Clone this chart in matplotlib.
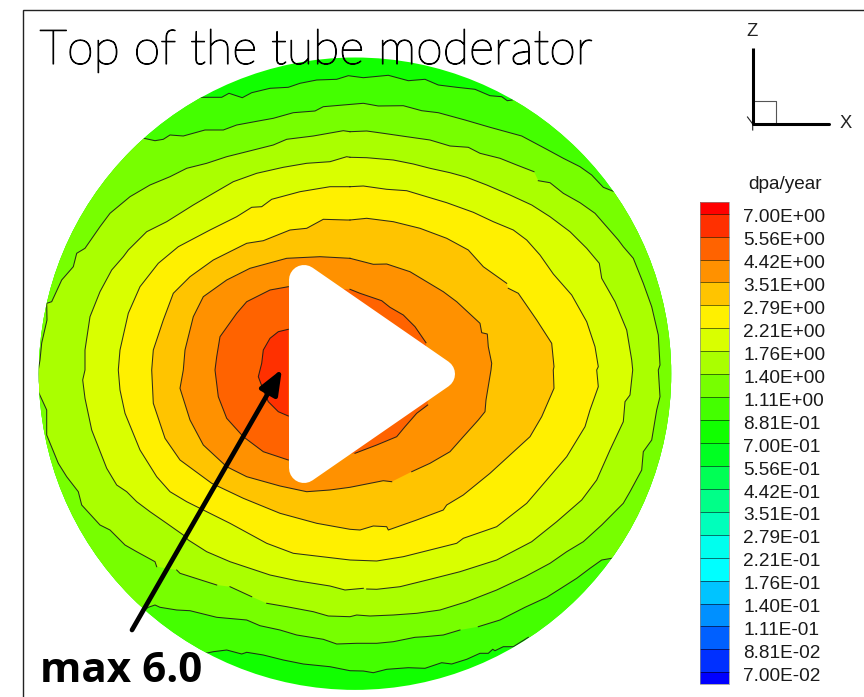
import matplotlib
matplotlib.use("Agg")
import matplotlib.pyplot as plt
import matplotlib.patheffects as pe
from matplotlib.patches import Circle, Polygon, Rectangle

# ---------- data (image pixel coordinates) ----------
TITLE = "Top of the tube moderator"
NOTE = "max 6.0"
UNITS = "dpa/year"
LEVEL_LABELS = ["7.00E+00", "5.56E+00", "4.42E+00", "3.51E+00", "2.79E+00", "2.21E+00", "1.76E+00",
                "1.40E+00", "1.11E+00", "8.81E-01", "7.00E-01", "5.56E-01", "4.42E-01", "3.51E-01",
                "2.79E-01", "2.21E-01", "1.76E-01", "1.40E-01", "1.11E-01", "8.81E-02", "7.00E-02"]
BAND_COLORS = ["#FF0000", "#FF3000", "#FF6300", "#FF9100", "#FFC400", "#FFF000", "#D9FF00", "#AAFF00",
               "#77FF00", "#44FF00", "#11FF00", "#00FF22", "#00FF55", "#00FF88", "#00FFBB", "#00FFEE",
               "#00FFFF", "#00C4FF", "#0090FF", "#0060FF", "#0030FF", "#0000FF"]

L9_TOP = [(200.7,97.3),(221.7,97.3),(229,93.3),(242.3,97.7),(251.7,92.7),(270,88.3),(288.3,87.3),(300,83.3),
          (316.7,80),(336.7,79.3),(348.3,75.7),(363.3,77.7),(388.3,75.3),(408.3,80.7),(425,79.3),(438.3,85),
          (456.7,87.3),(475,89.3),(490,95.7),(501.7,96.7),(507.3,100.7),(512.3,100)]
L9_BOTTOM = [(528.3,637.3),(513.3,646.7),(503.3,646.7),(495,650.7),(492.7,649.3),(488.3,653.3),(480,653.3),
             (466.7,659.3),(451.7,664),(441.7,662.7),(425,668.3),(408.3,667.7),(386.7,669.3),(373.3,672.7),
             (363.3,671),(350,670.7),(330,666.7),(303.3,664),(283.3,660),(263.3,655),(246.7,652.3),(241.7,654),
             (226.7,650),(213.3,651.7),(205.7,653.3)]

L8_TOP = [(144,138.3),(155,140.7),(163.3,139.3),(170,135),(183.3,136),(205,130),(223.3,130),(236.7,125),
          (260,120.7),(273.3,118.3),(293.3,112.7),(315,111),(323.3,106.7),(343.3,105),(363.3,103.3),(378.3,106),
          (403.3,105.7),(421.7,110.7),(438.3,112.7),(465,120),(490,127.3),(521.7,136),(546.7,149.3),(563.3,158.3),
          (580,166.7),(591.7,175),(603.3,187.3),(613.3,191.3)]
L8_BOTTOM_A = [(611.7,558.3),(601.7,560),(590,568.3),(576.7,578.3),(558.3,590),(546.7,597.3),(525,607.3),
               (500,620),(478.3,626.7)]
L8_BOTTOM_B = [(460,630),(443.3,635),(425,636.7),(415,637.3),(393.3,641.7),(376.7,643.3),(356.7,643.3),
               (336.7,644),(323.3,639.3),(296.7,635),(280,630),(260,625.7),(246.7,620),(216.7,617.3),(190,610.7),
               (176.7,610),(160,607.3),(155,605),(148.3,607.3),(141.7,611.7)]

L7_A = [(350,131.7),(366.7,131),(383.3,133.3),(406.7,136.7),(430,140),(450,146),(468.3,147.3),(480,153.3),
        (500,158.3),(516.7,165),(534,171.7)]
L7_B = [(538.3,180.7),(550,182.7),(563.3,193.3),(580,202.7),(595,213.3),(606.7,226.7),(618.3,240),(623.3,246.7),
        (633.3,258.3),(643.3,283.3),(651.7,306.7),(658.3,335),(660,365),(658.3,370),(660,396.7),(656.7,410),
        (651.7,440),(643.3,451.7),(641.7,470),(630,491.7),(623.3,503.3),(601.7,525),(583.3,541.7),(566.7,551.7),
        (550,563.3),(525,576.7),(496.7,590),(466.7,601.7),(440,610),(416.7,613.3),(393.3,615),(370,616),
        (356.7,615),(350,616.7),(328.3,616),(313.3,611.7),(286.7,606.7),(266.7,603.3)]
L7_C = [(251.7,596.7),(230,586.7)]
L7_D = [(216.7,585),(180,573.3),(176.7,570)]
L7_E = [(156.7,566.7),(155,561.7),(136.7,551.7),(125,545),(110,530),(100,525),(81.7,505),(78.3,491.7),(66.7,476.7),
        (58.3,463.3),(46.7,435),(46.7,410),(38.3,391.7),(38.3,370),(40,360),(41.7,343),(47,320),(46.7,303.3),
        (51.7,301.7),(61.7,280),(73.3,266.7),(76.7,253.3),(85,248.3),(100,226.7),(110,213.3),(130,196.7),(150,185),
        (170,176.7),(186.7,168.3),(206.7,163.3),(226.7,156.7),(246.7,151.7),(273.3,145),(286.7,139.3),(313.3,136),
        (343.3,130.7)]

L6_A = [(350,157.3),(366.7,157.7),(393.3,160),(413.3,164),(430,168.3),(450,172.7),(466.7,177.3),(486.7,185),
        (510,195),(531.7,205),(550,216.7),(570,231.7),(586.7,248.3),(599.3,263.3),(601.7,278.3),(615,301.7),
        (626.7,330),(631.7,360),(632.7,370),(630,395),(625,401.7),(623.3,421.7),(610,450),(596.7,480),(581.7,500),
        (556.7,521.7),(531.7,541.7),(496.7,560),(460,571.7),(430,579.3),(400,586.7),(376.7,589.3),(366.7,589)]
L6_B = [(363.3,588.3),(345,590),(330,586),(296.7,580.7),(270,575),(230,561.7),(206.7,551.7),(188.3,540),(183.3,535),
        (166.7,523.3),(150,511.7),(136.7,501.7),(126.7,491.7),(116.7,485),(106.7,468.3),(91.7,430),(85,398.3),
        (82.7,380),(85,370),(85,350),(90,316.7),(100,291.7),(111.7,270),(123.3,256.7),(128.3,250),(146.7,231.7),
        (166.7,221.7),(193.3,205),(213.3,193.3),(233.3,181.7),(256.7,173.3),(283.3,167.3),(306.7,163.3),(330,161.7),
        (346.7,156.7)]

L5 = [(350,186.7),(363.3,186),(386.7,189.3),(406.7,190.7),(423.3,195.7),(446.7,202.7),(473.3,212.3),(493.3,221.7),
      (513.3,230),(526.7,240),(540,255),(553.3,274),(571.7,295),(586.7,321.7),(595,346.7),(598.3,366.7),(596.7,370),
      (598.3,386.7),(590,410),(585,426.7),(566.7,456.7),(546.7,480),(526.7,503.3),(496.7,526.7),(463.3,538.3),
      (456.7,543.3),(430,550),(403.3,556.7),(376.7,561),(350,560),(293.3,553.3),(266.7,543.3),(230,523.3),
      (203.3,510),(186.7,501.7),(170,491.7),(156.7,476.7),(140,450),(125,413.3),(120,390),(118.3,370),(120,350),
      (128.3,313.3),(140,286.7),(158.3,263.3),(178.3,246.7),(210,230),(236.7,216.7),(251.7,207.3),(261.7,206.7),
      (271.7,199.3),(300,191.7),(330,186.7)]

L4_A = [(350,220),(366.7,218.3),(393.3,221.7),(420,228.3),(446.7,238.3),(468.3,250),(483.3,266.7),(506.7,283.3)]
L4_B = [(508.3,288.3),(518.3,293.3),(536.7,320),(551.7,343.3),(554,366.7),(553.3,370),(554,388.3),(541.7,416.7),
        (530,436.7),(490,473.3),(463.3,495),(446.7,505),(443.3,510),(416.7,520),(388.3,530),(386.7,526.7),(373.3,526),
        (360,530),(350,529.3),(316.7,523.3),(280,513.3),(243.3,498.3),(211.7,483.3),(180,460),(165,438.3),(153.3,403.3),
        (151.7,370),(153.3,350),(163.3,320),(173.3,293.3),(190,276.7),(213.3,260),(246.7,243.3),(263.3,240.7),(290,230),
        (306.7,228.3),(323.3,219.3),(346.7,220)]

L3_A = [(350,258.3),(373.3,264.3),(386.7,264),(410,271.7),(443.3,291.7),(456.7,301.7),(480,323.3),(481.7,332.7),
        (487.3,334),(488.3,346.7),(491.7,363.3),(491,370),(486,400),(485,411.7),(478.3,420),(463.3,436.7),(450,451.7),
        (430,463.3),(411.7,471.7)]
L3_B = [(391.7,481.7),(383.3,480.7),(350,487.3),(330,490),(306.7,491.7),(280,486),(246.7,476.7),(226.7,466.7),
        (203.3,445),(190,420),(180,388.3),(183.3,370),(185,350),(193.3,316.7),(203.3,296.7),(226.7,280),(250,268.3),
        (286.7,258.3),(320,256.7)]

L2_LEFT = [(288.3,460),(263.3,451.7),(243.3,436.7),(226.7,418.3),(218.3,396.7),(215,370),(216.7,356.7),(220,336.7),
           (236.7,313.3),(246.7,301.7),(270,290),(288.3,286.7)]
L2_UPPER = [(350,289.3),(360,293.3),(381.7,300.7),(390,307.3),(403.3,315),(415,326.7),(426,342.7)]
L2_LOWER = [(427.7,405),(416.7,413.3),(405,426.7),(396.7,436.7),(376.7,445),(355,453.3)]

L1_LEFT = [(288.3,329.3),(278.3,331.7),(270,338.3),(263.3,350),(261.7,363.3),(258.3,376.7),(263.3,390),(268.3,401.7),
           (278.3,411.7),(288.3,416)]

PLAY_VERTICES = [(304,280),(440,374),(304,468)]
ARROW_START = (132,630)
ARROW_TIP = (282,369)

# ---------- figure ----------
fig = plt.figure(figsize=(8.64, 6.97), dpi=100)
ax = fig.add_axes([0, 0, 1, 1])
ax.set_xlim(0, 864)
ax.set_ylim(697, 0)
ax.axis("off")

# frame
ax.plot([22.5, 22.5, 864], [697, 9.8, 9.8], color="#222222", lw=1.0, solid_joinstyle="miter")

# disc
CX, CY, R = 355, 373.7, 316.2
disc = Circle((CX, CY), R, facecolor=BAND_COLORS[10], edgecolor="none", zorder=1)
ax.add_patch(disc)

def fill(points, color, z):
    p = Polygon(points, closed=True, facecolor=color, edgecolor="none", zorder=z)
    ax.add_patch(p)
    p.set_clip_path(disc)

def stroke(points, z=3):
    xs, ys = zip(*points)
    line, = ax.plot(xs, ys, color="#1a1a1a", lw=0.75, zorder=z, alpha=0.9)
    line.set_clip_path(disc)

def off_disc(top, bottom):
    """Close an open contour outside the disc so that the clip gives the circular edge."""
    return (top + [(900, top[-1][1]), (900, bottom[0][1])] + bottom
            + [(-100, bottom[-1][1]), (-100, top[0][1])])

fill(off_disc(L9_TOP, L9_BOTTOM), BAND_COLORS[9], 1.1)
fill(off_disc(L8_TOP, L8_BOTTOM_A + L8_BOTTOM_B), BAND_COLORS[8], 1.2)
fill(L7_A + L7_B + L7_C + L7_D + L7_E, BAND_COLORS[7], 1.3)
fill(L6_A + L6_B, BAND_COLORS[6], 1.4)
fill(L5, BAND_COLORS[5], 1.5)
fill(L4_A + L4_B, BAND_COLORS[4], 1.6)
fill(L3_A + L3_B, BAND_COLORS[3], 1.7)
fill(L2_UPPER + L2_LOWER + L2_LEFT, BAND_COLORS[2], 1.8)
fill(L1_LEFT, BAND_COLORS[1], 1.9)

for arc in [L9_TOP, L9_BOTTOM, L8_TOP, L8_BOTTOM_A, L8_BOTTOM_B, L7_A, L7_B, L7_C, L7_D, L7_E + L7_A[:1],
            L6_A, L6_B + L6_A[:1], L5 + L5[:1], L4_A, L4_B + L4_A[:1], L3_A, L3_B + L3_A[:1],
            L2_LEFT, L2_UPPER, L2_LOWER, L1_LEFT]:
    stroke(arc)

# play overlay
ax.add_patch(Polygon(PLAY_VERTICES, closed=True, facecolor="white", edgecolor="white",
                     lw=21.6, joinstyle="round", zorder=4))

# arrow
ax.annotate("", xy=ARROW_TIP, xytext=ARROW_START, zorder=5,
            arrowprops=dict(arrowstyle="-|>,head_length=1.5,head_width=0.6", lw=3.4, color="black",
                            shrinkA=0, shrinkB=0, mutation_scale=10))

# texts
ax.text(39.5, 64, TITLE, fontsize=34.8, family="Lato", fontweight="light", color="black",
        va="baseline", ha="left", zorder=6,
        path_effects=[pe.withStroke(linewidth=0.8, foreground="black")])
ax.text(40, 682, NOTE, fontsize=30.3, family="Open Sans", fontweight="bold", color="black",
        va="baseline", ha="left", zorder=6)

# triad
ax.plot([752.7, 752.7], [48, 124], color="black", lw=2.2, solid_capstyle="butt", zorder=3)
ax.plot([752.7, 829], [124, 124], color="black", lw=2.2, solid_capstyle="round", zorder=3)
ax.plot([752.7, 776, 776], [101, 101, 124], color="#555555", lw=0.8, zorder=2)
ax.plot([747.5, 752.7, 752.7], [117, 124, 130], color="#222222", lw=0.8, zorder=2)
ax.text(752.5, 31, "Z", fontsize=13.2, family="Liberation Sans", ha="center", va="center", color="#222222")
ax.text(846, 124, "X", fontsize=13.2, family="Liberation Sans", ha="center", va="center", color="#222222")

# legend
BAR_L, BAR_W, BAR_TOP, FIRST, STEP, BAR_BOTTOM = 700.3, 28.7, 201.7, 213.7, 22.93, 684
edges = [BAR_TOP] + [FIRST + STEP * i for i in range(len(LEVEL_LABELS))] + [BAR_BOTTOM]
for c, y0, y1 in zip(BAND_COLORS, edges[:-1], edges[1:]):
    ax.add_patch(Rectangle((BAR_L, y0), BAR_W, y1 - y0, facecolor=c, edgecolor="none", zorder=2))
for y in edges[1:-1]:
    ax.plot([BAR_L, BAR_L + BAR_W], [y, y], color="#000000", alpha=0.55, lw=0.7, zorder=3)
ax.add_patch(Rectangle((BAR_L, BAR_TOP), BAR_W, BAR_BOTTOM - BAR_TOP, facecolor="none",
                       edgecolor="#888888", lw=0.5, zorder=3))
for i, label in enumerate(LEVEL_LABELS):
    ax.text(743.3, FIRST + STEP * i + 4.2, label, fontsize=13.7, family="Liberation Sans",
            ha="left", va="center", color="#1a1a1a")
ax.text(785, 189, UNITS, fontsize=13.7, family="Liberation Sans", ha="center", va="baseline", color="#1a1a1a")

fig.savefig("out.png", dpi=100)
